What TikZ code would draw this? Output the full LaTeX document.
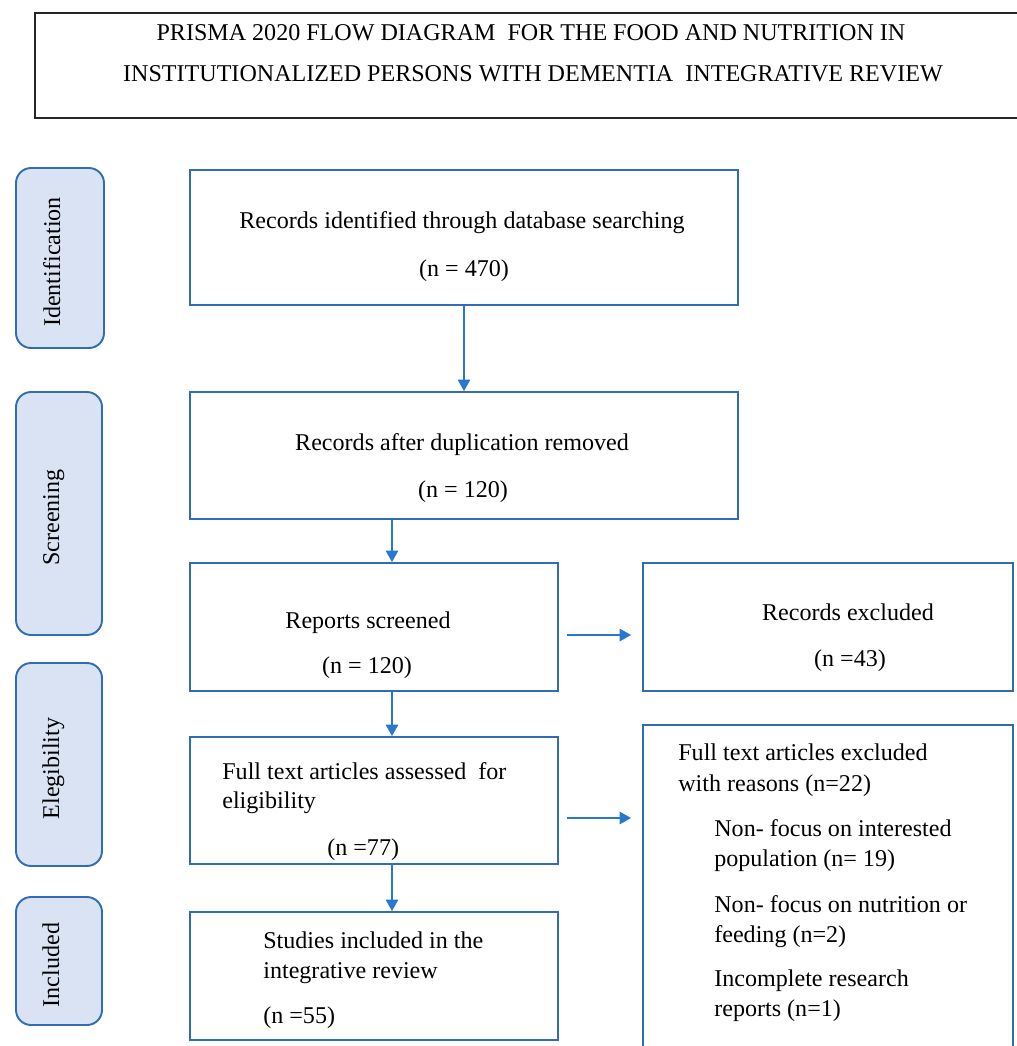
\documentclass[tikz,border=0pt]{standalone}
\usepackage{fontspec}
\setmainfont{Liberation Serif}
\usetikzlibrary{calc,positioning,arrows.meta}
\definecolor{boxblue}{HTML}{2F6EB5}
\definecolor{stagefill}{HTML}{DAE3F3}
\definecolor{arrowblue}{HTML}{2878CF}

\begin{document}
\begin{tikzpicture}[
    x=0.02cm, y=-0.02cm,
    every node/.style={font=\fontsize{13.7}{16}\selectfont},
    stage/.style={draw=boxblue, fill=stagefill, line width=1.1pt,
      rounded corners=0.3cm, inner sep=0pt},
    flowbox/.style={draw=boxblue, line width=1.1pt, inner sep=0pt},
    flowarrow/.style={arrowblue, line width=1.1pt,
      -{Triangle[length=6.5pt,width=7pt]}},
    txt/.style={inner sep=0pt, anchor=mid, yshift=-0.08cm},
    ltxt/.style={inner sep=0pt, anchor=mid west, yshift=-0.08cm},
  ]
  \useasboundingbox (0,0) rectangle (1017,1046);
  % title
  \node [draw=black!85, line width=1.5pt, inner sep=0pt,
    minimum width=19.9cm, minimum height=2.1cm]
    at (532.5,65.5) (title) {}
  ;
  \node [txt, font=\fontsize{13.7}{16}\selectfont] at (531,32) (title1)
    {PRISMA 2020 FLOW DIAGRAM\ \ FOR THE FOOD AND NUTRITION IN};
  \node [txt, font=\fontsize{13.7}{16}\selectfont] at (533,73) (title2)
    {INSTITUTIONALIZED PERSONS WITH DEMENTIA\ \ INTEGRATIVE REVIEW};
  % stages
  \node [stage, minimum width=1.76cm, minimum height=3.6cm]
    at (60,258) (identstage) {}
  ;
  \node [txt, rotate=90, yshift=0.08cm] at (identstage.center) {Identification};
  \node [stage, minimum width=1.72cm, minimum height=4.86cm]
    at (59,513.5) (screenstage) {}
  ;
  \node [txt, rotate=90, yshift=0.08cm] at (screenstage.center) {Screening};
  \node [stage, minimum width=1.72cm, minimum height=4.06cm]
    at (59,764.5) (eligstage) {}
  ;
  \node [txt, rotate=90, yshift=0.08cm] at (eligstage.center) {Elegibility};
  \node [stage, minimum width=1.72cm, minimum height=2.56cm]
    at (59,961) (inclstage) {}
  ;
  \node [txt, rotate=90, yshift=0.08cm] at (inclstage.center) {Included};
  % identification
  \node [flowbox, minimum width=10.96cm, minimum height=2.7cm]
    at (464,237.5) (ident) {}
  ;
  \node [txt] at (462,220) {Records identified through database searching};
  \node [txt] at (464,268) {(n = 470)};
  % duplicates
  \node [flowbox, minimum width=10.96cm, minimum height=2.54cm]
    at (464,455.5) (dedup) {}
  ;
  \node [txt] at (462,442) {Records after duplication removed};
  \node [txt] at (463,489) {(n = 120)};
  % screening
  \node [flowbox, minimum width=7.36cm, minimum height=2.56cm]
    at (374,627) (screen) {}
  ;
  \node [txt] at (368,620) {Reports screened};
  \node [txt] at (367,665) {(n = 120)};
  \node [flowbox, minimum width=7.4cm, minimum height=2.56cm]
    at (828,627) (recexcl) {}
  ;
  \node [txt] at (848,612) {Records excluded};
  \node [txt] at (850,658) {(n =43)};
  % eligibility
  \node [flowbox, minimum width=7.36cm, minimum height=2.54cm]
    at (374,800.5) (elig) {}
  ;
  \node [ltxt] at (222,771) {Full text articles assessed\ \ for};
  \node [ltxt] at (222,800) {eligibility};
  \node [ltxt] at (327,847) {(n =77)};
  \node [flowbox, minimum width=7.4cm, minimum height=6.9cm]
    at (828,897.5) (fullexcl) {}
  ;
  \node [ltxt] at (678,752) {Full text articles excluded};
  \node [ltxt] at (678,783) {with reasons (n=22)};
  \node [ltxt] at (714,828) {Non- focus on interested};
  \node [ltxt] at (714,858) {population (n= 19)};
  \node [ltxt] at (714,904) {Non- focus on nutrition or};
  \node [ltxt] at (714,934) {feeding (n=2)};
  \node [ltxt] at (714,978) {Incomplete research};
  \node [ltxt] at (714,1008) {reports (n=1)};
  % included
  \node [flowbox, minimum width=7.36cm, minimum height=2.56cm]
    at (374,976) (incl) {}
  ;
  \node [ltxt] at (263,940) {Studies included in the};
  \node [ltxt] at (263,970) {integrative review};
  \node [ltxt] at (263,1015) {(n =55)};
  % arrows
  \coordinate (spine) at (392,0);
  \coordinate (row1) at (0,635);
  \coordinate (row2) at (0,818);
  \draw [flowarrow] (ident.south) -- (dedup.north);
  \draw [flowarrow] (dedup.south -| spine) -- (screen.north -| spine);
  \draw [flowarrow] (screen.south -| spine) -- (elig.north -| spine);
  \draw [flowarrow] (elig.south -| spine) -- (incl.north -| spine);
  \draw [flowarrow, shorten <=0.16cm, shorten >=0.22cm]
    (screen.east |- row1) -- (recexcl.west |- row1)
  ;
  \draw [flowarrow, shorten <=0.16cm, shorten >=0.22cm]
    (elig.east |- row2) -- (fullexcl.west |- row2)
  ;
\end{tikzpicture}
\end{document}
